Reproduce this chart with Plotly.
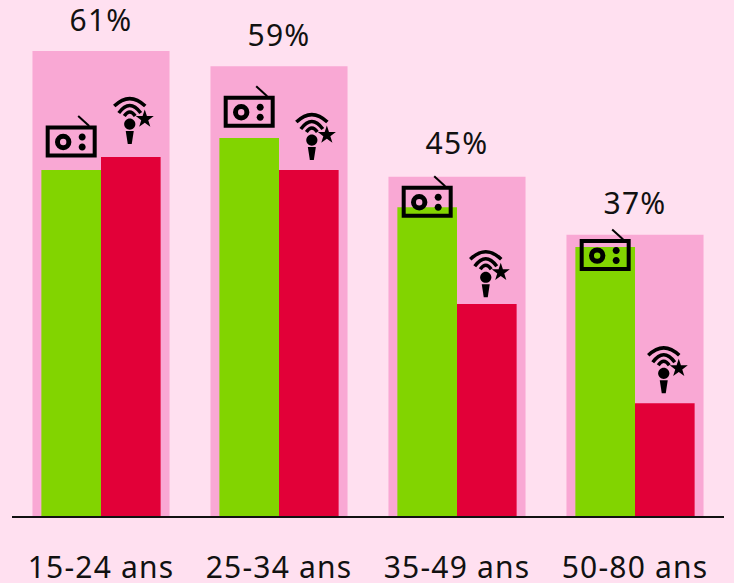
import math
import plotly.graph_objects as go

categories = ["15-24 ans", "25-34 ans", "35-49 ans", "50-80 ans"]
total = [61.0, 59.0, 44.5, 36.9]
total_labels = ["61%", "59%", "45%", "37%"]
label_y = [62.6, 60.7, 46.5, 38.6]
radio = [45.4, 49.6, 40.5, 35.3]
live = [47.1, 45.4, 27.8, 14.8]
# height of each pictogram's foot, in axis units
radio_icon_y = [47.1, 51.0, 39.2, 32.2]
live_icon_y = [48.8, 46.7, 28.7, 16.1]
live_icon_dx = [-0.006, 0.017, -0.006, -0.006]

BG = "#FFE0F0"
PALE = "#F9A8D4"
GREEN = "#82D400"
RED = "#E20038"
INK = "#000000"
TEXT = "#111111"
FONT = "Noto Sans"

xs = list(range(len(categories)))
fig = go.Figure()
fig.add_bar(x=xs, y=total, width=0.77, marker=dict(color=PALE, line_width=0), hoverinfo="skip")
fig.add_bar(x=xs, y=radio, width=0.335, offset=-0.335, marker=dict(color=GREEN, line_width=0))
fig.add_bar(x=xs, y=live, width=0.335, offset=0, marker=dict(color=RED, line_width=0))
fig.add_scatter(x=xs, y=label_y, mode="text", text=total_labels, textposition="top center",
                cliponaxis=False, textfont=dict(family=FONT, size=30, color=TEXT), hoverinfo="skip")


def circle(cx, cy, r):
    k = 0.5523 * r
    return (f"M{cx + r},{cy} C{cx + r},{cy + k} {cx + k},{cy + r} {cx},{cy + r} "
            f"C{cx - k},{cy + r} {cx - r},{cy + k} {cx - r},{cy} "
            f"C{cx - r},{cy - k} {cx - k},{cy - r} {cx},{cy - r} "
            f"C{cx + k},{cy - r} {cx + r},{cy - k} {cx + r},{cy} Z")


def star(cx, cy, ro, ri):
    pts = []
    for i in range(10):
        r = ro if i % 2 == 0 else ri
        a = math.pi / 2 + i * math.pi / 5
        pts.append((cx + r * math.cos(a), cy + r * math.sin(a)))
    return "M" + " L".join(f"{a:.2f},{b:.2f}" for a, b in pts) + " Z"


def icon(x, y, path, fill=False, w=0):
    fig.add_shape(type="path", xref="x", yref="y", xsizemode="pixel", ysizemode="pixel",
                  xanchor=x, yanchor=y, path=path, layer="above",
                  fillcolor=INK if fill else "rgba(0,0,0,0)",
                  line=dict(color=INK, width=w))


# path coordinates are pixel offsets from the anchor, y upwards
for i in xs:
    a, b = i - 0.1675, radio_icon_y[i]
    icon(a, b, "M-23.5,1.5 L23.5,1.5 L23.5,29.5 L-23.5,29.5 Z", w=4)
    icon(a, b, "M7,41 L18,31", w=2)
    icon(a, b, circle(-8, 15, 5.7), w=5)
    icon(a, b, circle(11, 20, 3.5), fill=True)
    icon(a, b, circle(11, 10, 3.5), fill=True)

    a, b = i + 0.1675 + live_icon_dx[i], live_icon_y[i]
    icon(a, b, "M-2,0 L2,0 L4,13 L-4,13 Z", fill=True)
    icon(a, b, circle(0, 20, 5.6), fill=True)
    icon(a, b, "M-5.5,28 Q0,36 5.5,28", w=3.5)
    icon(a, b, "M-11,31 Q0,46 11,31", w=3.5)
    icon(a, b, "M-15.5,38 Q0,53 15.5,38", w=3.5)
    icon(a, b, star(15, 25, 9.5, 3.7), fill=True)

fig.update_layout(
    width=734, height=583, autosize=False, showlegend=False, barmode="overlay",
    paper_bgcolor=BG, plot_bgcolor=BG,
    margin=dict(l=12, r=9.5, t=0, b=67, pad=0),
    font=dict(family=FONT, color=TEXT),
    xaxis=dict(range=[-0.5, 3.5], tickvals=xs, ticktext=categories, showgrid=False, zeroline=False,
               showline=True, linecolor=TEXT, linewidth=2, ticks="", ticklen=0, ticklabelstandoff=24,
               automargin=False,
               tickfont=dict(family=FONT, size=30, color=TEXT), tickangle=0),
    yaxis=dict(range=[0, 67.7], visible=False, automargin=False),
)
page_css = (
    "var s=document.createElement('style');"
    "s.textContent='html,body{margin:0;padding:0;overflow:hidden}"
    ".xtick text,.textpoint text{letter-spacing:1.2px}';"
    "document.head.appendChild(s);"
)
fig.write_html("out.html", post_script=page_css, config={"displayModeBar": False})
